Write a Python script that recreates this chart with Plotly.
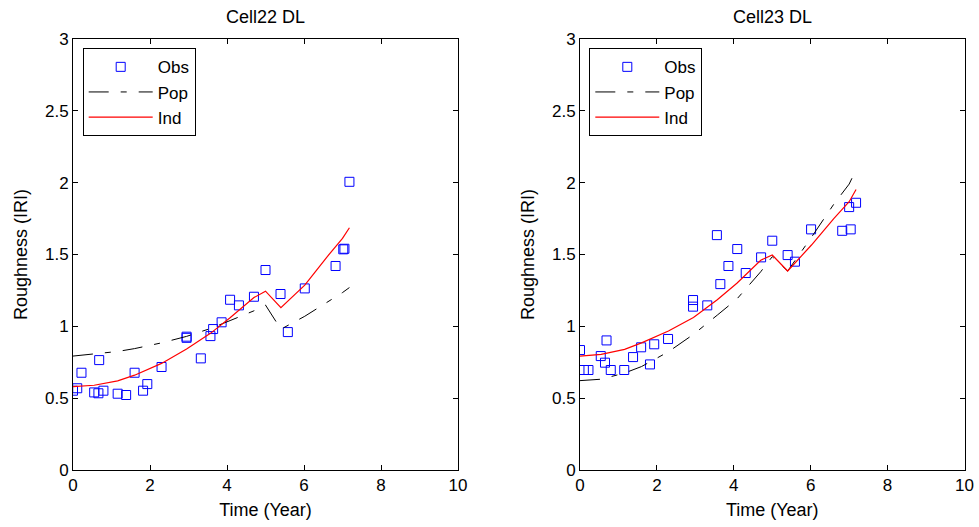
import plotly.graph_objects as go

# ---- data: Cell22 DL (left) ----
obs22_t = [0.0, 0.11, 0.22, 0.68, 0.55, 0.66, 0.79, 1.16, 1.38, 1.60, 1.82, 1.93, 2.30,
           2.95, 2.95, 3.32, 3.57, 3.64, 3.86, 4.08, 4.31, 4.70, 5.00, 5.39, 5.58, 6.02,
           6.82, 7.02, 7.05, 7.18]
obs22_y = [0.552, 0.569, 0.677, 0.765, 0.54, 0.534, 0.552, 0.531, 0.522, 0.677, 0.552,
           0.598, 0.717, 0.928, 0.92, 0.777, 0.932, 0.981, 1.028, 1.185, 1.146, 1.206,
           1.392, 1.225, 0.960, 1.264, 1.42, 1.536, 1.54, 2.006]

# ---- data: Cell23 DL (right) ----
obs23_t = [0.0, 0.10, 0.22, 0.54, 0.65, 0.69, 0.80, 1.15, 1.38, 1.59, 1.82, 1.93, 2.29,
           2.94, 2.94, 3.31, 3.56, 3.65, 3.86, 4.09, 4.31, 4.71, 5.00, 5.40, 5.59, 6.01,
           6.82, 7.04, 7.00, 7.18]
obs23_y = [0.835, 0.696, 0.696, 0.793, 0.747, 0.902, 0.696, 0.696, 0.786, 0.854, 0.735,
           0.875, 0.912, 1.183, 1.137, 1.146, 1.635, 1.294, 1.42, 1.538, 1.371, 1.48,
           1.596, 1.496, 1.45, 1.675, 1.665, 1.675, 1.83, 1.86]

# model curves (shared time grid)
fit_t = [0.0, 0.55, 1.16, 1.6, 2.3, 2.95, 3.57, 4.08, 4.7, 5.0, 5.4, 6.02, 6.6, 7.0, 7.18]
pop22 = [0.793, 0.806, 0.825, 0.845, 0.885, 0.93, 0.985, 1.04, 1.108, 1.148, 0.98,
         1.07, 1.165, 1.235, 1.27]
ind22 = [0.58, 0.59, 0.62, 0.66, 0.742, 0.842, 0.951, 1.06, 1.20, 1.245, 1.13,
         1.287, 1.484, 1.612, 1.686]
pop23 = [0.622, 0.632, 0.675, 0.72, 0.823, 0.944, 1.078, 1.19, 1.38, 1.485, 1.385,
         1.62, 1.85, 1.99, 2.09]
ind23 = [0.793, 0.805, 0.84, 0.885, 0.968, 1.062, 1.185, 1.30, 1.46, 1.496, 1.385,
         1.566, 1.75, 1.867, 1.953]

titles = ["Cell22 DL", "Cell23 DL"]
x_label = "Time (Year)"
y_label = "Roughness (IRI)"
names = ["Obs", "Pop", "Ind"]

W, H = 979, 527
FONT = "Liberation Sans, Arial, sans-serif"
POP_DASH = "20px,12px,6px,12px"

fig = go.Figure()
panels = [
    (obs22_t, obs22_y, pop22, ind22, "x", "y", "legend"),
    (obs23_t, obs23_y, pop23, ind23, "x2", "y2", "legend2"),
]
for ot, oy, pp, ii, xa, ya, lg in panels:
    fig.add_trace(go.Scatter(x=ot, y=oy, mode="markers", name=names[0], xaxis=xa, yaxis=ya,
                             legend=lg,
                             marker=dict(symbol="square-open", size=9, color="#0000ff",
                                         line=dict(width=1, color="#0000ff"))))
    fig.add_trace(go.Scatter(x=fit_t, y=pp, mode="lines", name=names[1], xaxis=xa, yaxis=ya,
                             legend=lg,
                             line=dict(color="black", width=1, dash=POP_DASH)))
    fig.add_trace(go.Scatter(x=fit_t, y=ii, mode="lines", name=names[2], xaxis=xa, yaxis=ya,
                             legend=lg,
                             line=dict(color="#ff0000", width=1.2)))

ydom = [1 - 470 / H, 1 - 39 / H]
xdoms = [[73 / W, 458 / W], [580 / W, 964.5 / W]]

axis_common = dict(showline=True, linecolor="black", linewidth=1, mirror="ticks",
                   ticks="inside", ticklen=5, tickcolor="black", showgrid=False,
                   zeroline=False, automargin=False,
                   tickfont=dict(family=FONT, size=17, color="black"))

for k, (xd, xa, ya) in enumerate(zip(xdoms, ["xaxis", "xaxis2"], ["yaxis", "yaxis2"])):
    anchor_y = "y" if k == 0 else "y2"
    anchor_x = "x" if k == 0 else "x2"
    fig.layout[xa] = dict(domain=xd, range=[0, 10], dtick=2, tick0=0, anchor=anchor_y,
                          title=dict(text=x_label, font=dict(family=FONT, size=18, color="black"),
                                     standoff=8),
                          **axis_common)
    fig.layout[ya] = dict(domain=ydom, range=[0, 3], dtick=0.5, tick0=0, anchor=anchor_x,
                          title=dict(text=y_label, font=dict(family=FONT, size=18, color="black"),
                                     standoff=12),
                          **axis_common)

annotations = []
for k, xd in enumerate(xdoms):
    annotations.append(dict(text=titles[k], x=(xd[0] + xd[1]) / 2, y=1 - 17 / H,
                            xref="paper", yref="paper", showarrow=False,
                            xanchor="center", yanchor="middle",
                            font=dict(family=FONT, size=18, color="black")))

leg_common = dict(bgcolor="white", bordercolor="black", borderwidth=1,
                  xanchor="left", yanchor="top", itemwidth=64,
                  font=dict(family=FONT, size=17, color="black"), tracegroupgap=0)

fig.update_layout(
    width=W, height=H,
    margin=dict(l=0, r=0, t=0, b=0),
    paper_bgcolor="white", plot_bgcolor="white",
    showlegend=True,
    legend=dict(x=82.7 / W, y=1 - 48.3 / H, **leg_common),
    legend2=dict(x=589.3 / W, y=1 - 48.3 / H, **leg_common),
    annotations=annotations,
    font=dict(family=FONT, color="black"),
)

fig.write_html("out.html")
